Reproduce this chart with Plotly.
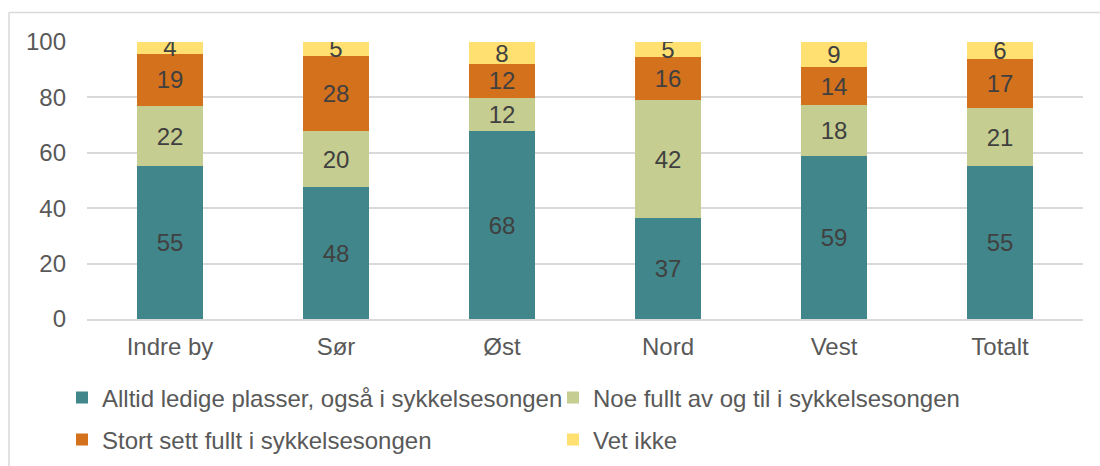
import plotly.graph_objects as go

categories = ["Indre by", "Sør", "Øst", "Nord", "Vest", "Totalt"]

series_names = [
    "Alltid ledige plasser, også i sykkelsesongen",
    "Noe fullt av og til i sykkelsesongen",
    "Stort sett fullt i sykkelsesongen",
    "Vet ikke",
]

alltid = [55.1, 47.6, 67.8, 36.6, 58.9, 55.2]
noe = [21.8, 20.1, 12.1, 42.3, 18.3, 20.9]
stort = [18.9, 27.4, 12.1, 15.7, 13.6, 17.6]
vet = [4.2, 4.9, 8.0, 5.4, 9.2, 6.3]

# Data labels as printed on the chart
alltid_lbl = ["55", "48", "68", "37", "59", "55"]
noe_lbl = ["22", "20", "12", "42", "18", "21"]
stort_lbl = ["19", "28", "12", "16", "14", "17"]
vet_lbl = ["4", "5", "8", "5", "9", "6"]

colors = ["#41868A", "#C6CD90", "#D4711C", "#FFE070"]
legend_rows = ["legend", "legend", "legend2", "legend2"]

y_ticks = [0, 20, 40, 60, 80, 100]

FONT = "Liberation Sans, Arial, sans-serif"
FS = 24

fig = go.Figure()
for name, vals, lbls, col, lg in zip(
    series_names,
    [alltid, noe, stort, vet],
    [alltid_lbl, noe_lbl, stort_lbl, vet_lbl],
    colors,
    legend_rows,
):
    fig.add_trace(
        go.Bar(
            name=name,
            x=categories,
            y=vals,
            text=lbls,
            textposition="inside",
            insidetextanchor="middle",
            textangle=0,
            constraintext="none",
            textfont=dict(family=FONT, size=FS, color="#404040"),
            marker=dict(color=col, line=dict(width=0)),
            hoverinfo="x+y+name",
            legend=lg,
        )
    )

legend_common = dict(
    orientation="h",
    xanchor="left",
    yanchor="middle",
    entrywidth=446,
    entrywidthmode="pixels",
    traceorder="normal",
    font=dict(family=FONT, size=FS, color="#595959"),
    bgcolor="rgba(0,0,0,0)",
    itemclick=False,
)

fig.update_layout(
    barmode="stack",
    bargap=0.6,
    width=1100,
    height=466,
    margin=dict(l=87, r=17, t=42, b=147, pad=0, autoexpand=False),
    paper_bgcolor="white",
    plot_bgcolor="white",
    font=dict(family=FONT, size=FS, color="#595959"),
    legend=dict(x=(62 - 87) / 996, y=(319 - 398) / 277, **legend_common),
    legend2=dict(x=(62 - 87) / 996, y=(319 - 440) / 277, **legend_common),
    showlegend=True,
)

fig.update_xaxes(
    showline=True,
    linecolor="#D9D9D9",
    linewidth=2,
    ticks="",
    ticklabelstandoff=5,
    tickfont=dict(family=FONT, size=FS, color="#595959"),
    showgrid=False,
)
fig.update_yaxes(
    range=[0, 100],
    tickvals=y_ticks,
    showgrid=True,
    gridcolor="#D9D9D9",
    gridwidth=2,
    zeroline=False,
    showline=False,
    ticks="",
    ticklabelstandoff=20,
    tickfont=dict(family=FONT, size=FS, color="#595959"),
)

# chart-area frame (light gray), like the source
fig.add_shape(
    type="line", xref="paper", yref="paper",
    x0=(9 - 87) / 996, x1=(1100 - 87) / 996,
    y0=(319 - 12.5) / 277, y1=(319 - 12.5) / 277,
    line=dict(color="#D9D9D9", width=1.5),
)
fig.add_shape(
    type="line", xref="paper", yref="paper",
    x0=(9 - 87) / 996, x1=(9 - 87) / 996,
    y0=(319 - 12.5) / 277, y1=(319 - 470) / 277,
    line=dict(color="#D9D9D9", width=1.5),
)

fig.write_html(
    "out.html",
    config={"displayModeBar": False},
    post_script="document.body.style.margin='0';document.body.style.padding='0';",
)
